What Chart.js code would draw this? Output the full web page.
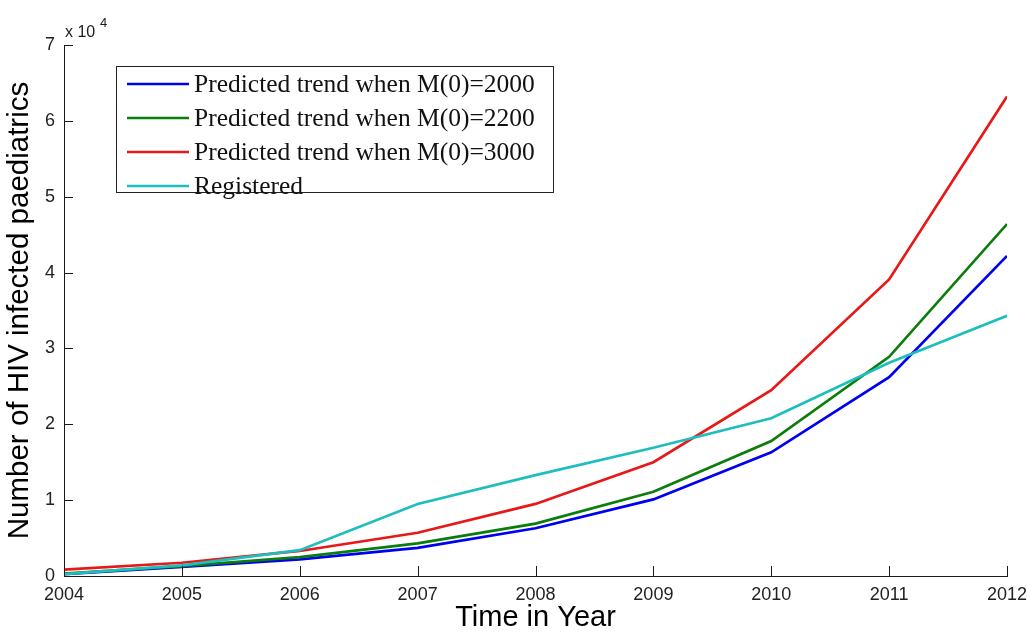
<!DOCTYPE html>
<html>
<head>
<meta charset="utf-8">
<title>HIV infected paediatrics</title>
<script src="https://cdn.jsdelivr.net/npm/chart.js@4/dist/chart.umd.min.js"></script>
<style>
  html, body { margin: 0; padding: 0; background: #ffffff; }
  #wrap { width: 1027px; height: 635px; position: relative; }
</style>
</head>
<body>
<div id="wrap"><canvas id="c" width="1027" height="635"></canvas></div>
<script>
// Years on the horizontal axis
const years = [2004, 2005, 2006, 2007, 2008, 2009, 2010, 2011, 2012];

// Predicted numbers of infected children for three initial values, plus registered cases
const predictedM2000 = [250, 1200, 2200, 3700, 6300, 10100, 16300, 26200, 42200];
const predictedM2200 = [300, 1300, 2500, 4300, 6900, 11100, 17800, 28900, 46400];
const predictedM3000 = [850, 1750, 3300, 5700, 9500, 15000, 24500, 39100, 63200];
const registered     = [250, 1400, 3400, 9500, 13300, 16900, 20800, 28100, 34300];

const seriesLabels = [
  'Predicted trend when M(0)=2000',
  'Predicted trend when M(0)=2200',
  'Predicted trend when M(0)=3000',
  'Registered'
];
const seriesColors = ['#0000f0', '#0b7d0b', '#e81818', '#1ebebe'];

// y tick values (shown in units of 10^4)
const yTicks = [0, 10000, 20000, 30000, 40000, 50000, 60000, 70000];

const toPoints = arr => arr.map((v, i) => ({ x: years[i], y: v }));
const seriesValues = [predictedM2000, predictedM2200, predictedM3000, registered];

const datasets = seriesValues.map((vals, i) => ({
  label: seriesLabels[i],
  data: toPoints(vals),
  borderColor: seriesColors[i],
  backgroundColor: seriesColors[i],
  borderWidth: 2.7,
  pointRadius: 0,
  tension: 0,
  fill: false,
  order: seriesValues.length - i   // later series drawn on top
}));

const AXIS = '#1a1a1a';
const SANS = '"Liberation Sans", Arial, sans-serif';

// Inward tick marks, exponent note and boxed legend inside the plot
const decorations = {
  id: 'decorations',
  afterDatasetsDraw(chart) {
    const { ctx, chartArea } = chart;
    const xs = chart.scales.x, ys = chart.scales.y;
    ctx.save();
    ctx.strokeStyle = AXIS;
    ctx.lineWidth = 1;
    ctx.beginPath();
    years.forEach(yr => {
      const px = Math.round(xs.getPixelForValue(yr)) + 0.5;
      ctx.moveTo(px, chartArea.bottom);
      ctx.lineTo(px, chartArea.bottom - 10);
    });
    yTicks.forEach(v => {
      const py = Math.round(ys.getPixelForValue(v)) + 0.5;
      ctx.moveTo(chartArea.left, py);
      ctx.lineTo(chartArea.left + 9, py);
    });
    ctx.stroke();

    // exponent note above the y axis
    ctx.fillStyle = AXIS;
    ctx.textBaseline = 'alphabetic';
    ctx.textAlign = 'left';
    ctx.font = '16px ' + SANS;
    ctx.fillText('x 10', chartArea.left + 1, chartArea.top - 8);
    ctx.font = '13px ' + SANS;
    ctx.fillText('4', chartArea.left + 36, chartArea.top - 18);

    // legend box
    const bx = 116.5, by = 66.5, bw = 437, bh = 126;
    ctx.fillStyle = '#ffffff';
    ctx.fillRect(bx, by, bw, bh);
    ctx.strokeStyle = '#222222';
    ctx.lineWidth = 1;
    ctx.strokeRect(bx, by, bw, bh);
    ctx.font = '25.5px "Liberation Serif", "Times New Roman", serif';
    ctx.textBaseline = 'middle';
    chart.data.datasets.forEach((ds, i) => {
      const ry = 84 + i * 34;
      ctx.strokeStyle = ds.borderColor;
      ctx.lineWidth = 2.7;
      ctx.beginPath();
      ctx.moveTo(127, ry);
      ctx.lineTo(189, ry);
      ctx.stroke();
      ctx.fillStyle = '#111111';
      ctx.fillText(ds.label, 194, ry + 1);
    });
    ctx.restore();
  }
};

new Chart(document.getElementById('c'), {
  type: 'line',
  data: { datasets },
  options: {
    responsive: false,
    animation: false,
    devicePixelRatio: 1,
    layout: { padding: { top: 45, right: 20, left: 0, bottom: 0 } },
    plugins: {
      legend: { display: false },
      tooltip: { enabled: false },
      title: { display: false }
    },
    scales: {
      x: {
        type: 'linear',
        min: 2004,
        max: 2012,
        afterFit(scale) {
          scale.height = 59;
          scale.paddingLeft = 0;
          scale.paddingRight = 0;
        },
        afterBuildTicks(scale) { scale.ticks = years.map(v => ({ value: v })); },
        grid: { display: false, drawTicks: false },
        border: { display: true, color: AXIS, width: 1 },
        ticks: {
          padding: 8,
          color: '#222222',
          font: { family: SANS, size: 18 },
          callback: v => String(v),
          maxRotation: 0
        },
        title: {
          display: true,
          text: 'Time in Year',
          color: '#000000',
          padding: 0,
          font: { family: SANS, size: 29 }
        }
      },
      y: {
        type: 'linear',
        min: 0,
        max: 70000,
        afterFit(scale) {
          scale.width = 64;
          scale.paddingTop = 0;
          scale.paddingBottom = 0;
        },
        afterBuildTicks(scale) { scale.ticks = yTicks.map(v => ({ value: v })); },
        grid: { display: false, drawTicks: false },
        border: { display: true, color: AXIS, width: 1 },
        ticks: {
          padding: 9,
          color: '#222222',
          font: { family: SANS, size: 18 },
          callback: v => String(v / 10000)
        },
        title: {
          display: true,
          text: 'Number of HIV infected paediatrics',
          color: '#000000',
          padding: { top: 2, bottom: 0 },
          font: { family: SANS, size: 29.5 }
        }
      }
    }
  },
  plugins: [decorations]
});
</script>
</body>
</html>
